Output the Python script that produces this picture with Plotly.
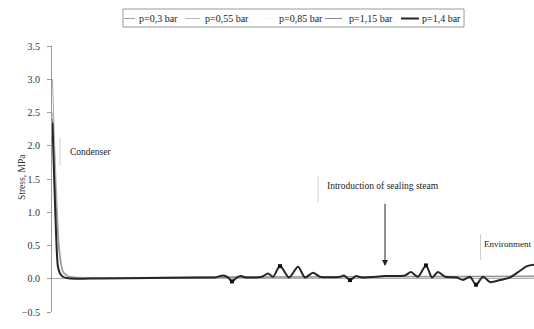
import plotly.graph_objects as go

# Position along the seal (arbitrary units, 0..100) and stress (MPa)
x_main = [0.1, 0.41, 0.73, 1.04, 1.24, 1.66, 2.28, 3.11, 5.0, 9.96, 20.33, 30.71, 33.82, 35.48, 36.51,
          37.34, 38.38, 39.21, 40.25, 43.57, 44.81, 45.85, 47.30, 49.17, 51.04, 52.49, 54.15, 55.60,
          59.75, 60.58, 61.83, 63.07, 64.32, 69.09, 73.24, 74.48, 75.93, 77.59, 78.84, 80.08, 81.54,
          84.02, 85.27, 86.72, 87.97, 89.42, 90.87, 92.95, 95.02, 97.10, 98.55, 100.0]
y_p14 = [2.35, 1.6, 0.9, 0.35, 0.18, 0.08, 0.03, 0.01, 0.0, 0.005, 0.01, 0.02, 0.02, 0.05, 0.02,
         -0.04, 0.02, 0.04, 0.02, 0.03, 0.08, 0.03, 0.19, 0.02, 0.18, 0.02, 0.09, 0.03,
         0.03, 0.05, -0.02, 0.04, 0.02, 0.04, 0.05, 0.10, 0.03, 0.20, 0.02, 0.10, 0.03,
         0.02, -0.02, 0.03, -0.09, 0.03, -0.05, -0.02, 0.02, 0.12, 0.19, 0.21]

x_light = [0.1, 0.5, 1.0, 1.5, 2.3, 3.5, 6.0, 20.0, 40.0, 60.0, 80.0, 100.0]
y_p03 = [3.0, 2.1, 1.2, 0.5, 0.12, 0.04, 0.02, 0.02, 0.03, 0.03, 0.03, 0.03]
y_p055 = [2.5, 1.75, 1.0, 0.42, 0.1, 0.03, 0.02, 0.02, 0.03, 0.03, 0.04, 0.04]
y_p085 = [2.45, 1.7, 0.95, 0.4, 0.09, 0.03, 0.02, 0.02, 0.02, 0.03, 0.03, 0.03]
y_p115 = [2.4, 1.65, 0.92, 0.38, 0.09, 0.03, 0.01, 0.01, 0.02, 0.03, 0.03, 0.04]

mark_x = [37.34, 47.30, 61.83, 77.59, 87.97]
mark_y = [-0.04, 0.19, -0.02, 0.20, -0.09]

legend_names = ["p=0,3 bar", "p=0,55 bar", "p=0,85 bar", "p=1,15 bar", "p=1,4 bar"]

SERIF = "Liberation Serif"
W, H = 534, 329
L, R, T, B = 52, 0, 46, 17
PW, PH = W - L - R, H - T - B


def px(xp):
    return (xp - L) / PW


def py(yp):
    return (H - B - yp) / PH


fig = go.Figure()
light = [(y_p085, "#e2e2e2", 2), (y_p055, "#c4c4c4", 1), (y_p03, "#a8a8a8", 0), (y_p115, "#909090", 3)]
for ys, col, idx in light:
    fig.add_trace(go.Scatter(x=x_light, y=ys, mode="lines", line=dict(color=col, width=1, shape="spline", smoothing=0.6),
                             name=legend_names[idx], showlegend=False))
fig.add_trace(go.Scatter(x=x_main, y=y_p14, mode="lines",
                         line=dict(color="#262626", width=2, shape="spline", smoothing=0.8),
                         name=legend_names[4], showlegend=False))
fig.add_trace(go.Scatter(x=mark_x, y=mark_y, mode="markers",
                         marker=dict(symbol="square", size=4, color="#111"), showlegend=False))

shapes = []
annotations = []

# custom legend box
shapes.append(dict(type="rect", xref="paper", yref="paper", x0=px(123), x1=px(464), y0=py(27), y1=py(9),
                   line=dict(color="#9a9a9a", width=1), fillcolor="white"))
leg_items = [  # (line x0, line x1, text x, name, colour, width)
    (124, 135, 137, legend_names[0], "#a0a0a0", 1),
    (185, 200, 203, legend_names[1], "#bdbdbd", 1),
    (262, 274, 277, legend_names[2], "#f0f0f0", 1),
    (325, 342, 347, legend_names[3], "#8a8a8a", 1),
    (401, 419, 420, legend_names[4], "#262626", 2),
]
for x0, x1, tx, name, col, w in leg_items:
    shapes.append(dict(type="line", xref="paper", yref="paper", x0=px(x0), x1=px(x1), y0=py(18.5), y1=py(18.5),
                       line=dict(color=col, width=w)))
    annotations.append(dict(xref="paper", yref="paper", x=px(tx), y=py(18.5), text=name, showarrow=False,
                            xanchor="left", yanchor="middle", font=dict(family=SERIF, size=10, color="#222")))

# labels with thin vertical lines
labels = [("Condenser", 3.32, 1.906, 1.66, 2.12, 1.70, 9.5),
          ("Introduction of sealing steam", 56.6, 1.395, 55.19, 1.545, 1.154, 9.5),
          ("Environment", 89.2, 0.52, 88.9, 0.67, 0.28, 9)]
for txt, tx, ty, lx, ly0, ly1, fs in labels:
    annotations.append(dict(x=tx, y=ty, text=txt, showarrow=False, xanchor="left", yanchor="middle",
                            font=dict(family=SERIF, size=fs, color="#222")))
    shapes.append(dict(type="line", x0=lx, x1=lx, y0=ly0, y1=ly1, line=dict(color="#cfcfcf", width=1)))

# arrow
annotations.append(dict(x=69.09, y=0.19, ax=69.09, ay=1.15, axref="x", ayref="y", text="", showarrow=True,
                        arrowhead=2, arrowsize=1.2, arrowwidth=1, arrowcolor="#222"))

# y axis title
annotations.append(dict(xref="paper", yref="paper", x=px(15), y=py(177), text="Stress, MPa", textangle=-90,
                        showarrow=False, font=dict(family=SERIF, size=9.5, color="#333")))

fig.update_layout(
    width=W, height=H, margin=dict(l=L, r=R, t=T, b=B),
    paper_bgcolor="white", plot_bgcolor="white",
    shapes=shapes, annotations=annotations, showlegend=False,
    xaxis=dict(range=[0, 100], showgrid=False, zeroline=False, showline=False, showticklabels=False, ticks=""),
    yaxis=dict(range=[-0.5, 3.5], dtick=0.5, tickformat=".1f", showgrid=False,
               zeroline=True, zerolinecolor="#b0b0b0", zerolinewidth=1,
               showline=True, linecolor="#9a9a9a", linewidth=1,
               ticks="outside", ticklen=4, tickcolor="#9a9a9a", ticklabelstandoff=5,
               tickfont=dict(family=SERIF, size=10, color="#333")),
)

fig.write_html("out.html", config={"displayModeBar": False},
               post_script="document.body.style.margin='0';document.body.style.overflow='hidden';")
